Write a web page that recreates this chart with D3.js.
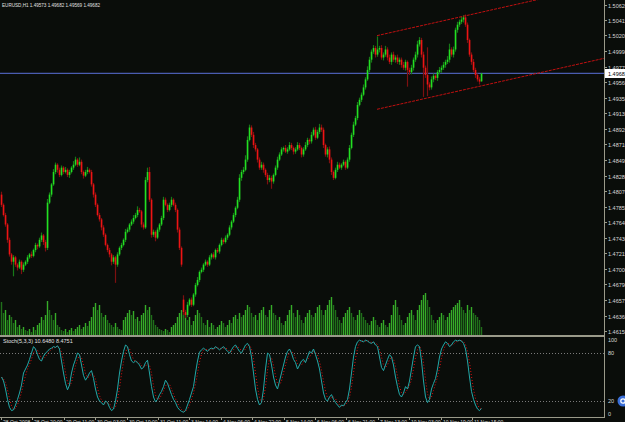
<!DOCTYPE html>
<html lang="en">
<head>
<meta charset="UTF-8">
<title>EURUSD H1</title>
<style>
  html, body { margin: 0; padding: 0; background: #0a0d0a; }
  svg { display: block; }
  text { font-family: "Liberation Sans", Arial, sans-serif; }
</style>
<script src="https://d3js.org/d3.v7.min.js"></script>
</head>
<body>
<script>
// ---- data ----
let closes = [
  1.4788, 1.4774, 1.4761, 1.4740, 1.4720, 1.4710, 1.4716, 1.4706, 1.4702, 1.4710,
  1.4699, 1.4706, 1.4710, 1.4716, 1.4720, 1.4718, 1.4726, 1.4733, 1.4731, 1.4740,
  1.4746, 1.4737, 1.4729, 1.4791, 1.4802, 1.4816, 1.4833, 1.4843, 1.4836, 1.4829,
  1.4839, 1.4833, 1.4836, 1.4829, 1.4833, 1.4839, 1.4843, 1.4850, 1.4843, 1.4847,
  1.4833, 1.4828, 1.4833, 1.4836, 1.4833, 1.4816, 1.4802, 1.4788, 1.4774, 1.4768,
  1.4757, 1.4747, 1.4733, 1.4726, 1.4720, 1.4710, 1.4716, 1.4706, 1.4720, 1.4729,
  1.4733, 1.4740, 1.4751, 1.4754, 1.4761, 1.4765, 1.4770, 1.4774, 1.4781, 1.4779,
  1.4761, 1.4757, 1.4822, 1.4833, 1.4795, 1.4747, 1.4751, 1.4743, 1.4754, 1.4761,
  1.4770, 1.4795, 1.4788, 1.4781, 1.4788, 1.4795, 1.4788, 1.4781, 1.4754, 1.4729,
  1.4706, 1.4641, 1.4637, 1.4651, 1.4658, 1.4651, 1.4665, 1.4678, 1.4685, 1.4696,
  1.4699, 1.4706, 1.4710, 1.4706, 1.4716, 1.4720, 1.4716, 1.4726, 1.4724, 1.4733,
  1.4740, 1.4737, 1.4743, 1.4747, 1.4757, 1.4765, 1.4774, 1.4784, 1.4795, 1.4825,
  1.4833, 1.4836, 1.4850, 1.4877, 1.4894, 1.4884, 1.4870, 1.4864, 1.4850, 1.4839,
  1.4843, 1.4836, 1.4829, 1.4822, 1.4825, 1.4820, 1.4829, 1.4839, 1.4850, 1.4857,
  1.4864, 1.4866, 1.4861, 1.4864, 1.4870, 1.4866, 1.4861, 1.4864, 1.4870, 1.4866,
  1.4857, 1.4864, 1.4870, 1.4877, 1.4875, 1.4884, 1.4891, 1.4880, 1.4888, 1.4894,
  1.4891, 1.4870, 1.4857, 1.4864, 1.4850, 1.4833, 1.4825, 1.4836, 1.4843, 1.4839,
  1.4843, 1.4847, 1.4839, 1.4850, 1.4866, 1.4884, 1.4898, 1.4907, 1.4925, 1.4932,
  1.4939, 1.4949, 1.4960, 1.4973, 1.4987, 1.4998, 1.5003, 1.4994, 1.5001, 1.5003,
  1.4990, 1.4994, 1.5001, 1.4990, 1.4984, 1.4994, 1.4987, 1.4990, 1.4984, 1.4987,
  1.4980, 1.4976, 1.4984, 1.4973, 1.4970, 1.4976, 1.4987, 1.4994, 1.5008, 1.5014,
  1.4994, 1.4976, 1.4966, 1.4953, 1.4949, 1.4960, 1.4965, 1.4962, 1.4970, 1.4973,
  1.4976, 1.4980, 1.4984, 1.4987, 1.5001, 1.4994, 1.5001, 1.5028, 1.5035, 1.5039,
  1.5042, 1.5045, 1.5035, 1.5014, 1.4994, 1.4984, 1.4973, 1.4966, 1.4960, 1.4957,
  1.49682
];
// opens follow the previous close except where the market gapped
let sessionOpens = { 0: 1.4802, 91: 1.4658, 240: 1.49573 };

// wick lengths beyond the body, in pips
let upperWicks = [
  4,2,3,2,3,2,3,2,2,3, 2,3,2,3,2,4,2,3,2,3, 4,2,3,5,3,2,4,3,2,3, 3,2,4,2,3,2,5,4,2,6,
  3,2,3,4,2,3,2,3,2,3, 2,3,2,2,3,2,3,2,3,2, 3,2,4,3,2,3,4,3,5,3, 2,3,4,6,7,2,3,2,3,2,
  3,4,3,2,3,4,2,3,2,3, 2,6,3,4,2,3,2,3,4,2, 3,2,3,2,3,2,3,2,3,2, 3,2,3,2,3,2,3,2,4,5,
  3,4,6,5,4,3,4,3,2,3, 4,3,2,3,4,3,2,3,4,3, 3,2,4,3,4,3,2,3,4,3, 2,3,4,3,2,4,3,4,3,5,
  4,3,2,3,4,3,2,3,4,3, 2,3,2,3,4,3,4,3,4,3, 3,4,3,5,4,3,4,3,18,3, 4,3,5,3,4,3,4,3,4,3,
  3,4,3,2,3,4,3,4,5,4, 3,4,3,38,3,4,3,2,3,4, 3,4,3,5,8,3,4,3,4,3, 4,3,4,3,2,3,4,3,2,3,
  0
];
let lowerWicks = [
  3,2,3,4,3,4,20,3,4,2, 6,3,2,3,2,3,2,3,4,2, 3,4,5,3,2,3,2,3,4,3, 2,3,2,3,4,2,3,2,3,2,
  3,4,2,3,2,3,4,3,2,3, 4,3,2,3,4,5,3,25,3,2, 3,2,3,2,3,2,3,2,3,2, 4,3,2,3,3,4,3,5,2,3,
  2,3,2,3,2,3,2,3,4,3, 3,4,4,3,2,3,2,3,2,3, 2,3,2,3,2,3,2,3,2,3, 2,3,2,3,2,3,2,3,2,3,
  4,3,2,3,2,3,4,3,4,3, 3,4,3,6,3,10,3,2,3,2, 2,3,2,3,2,3,4,3,2,3, 4,3,2,3,4,3,2,3,2,3,
  3,4,3,4,5,4,3,2,3,2, 3,2,3,2,3,2,3,2,3,2, 3,2,3,2,3,4,3,4,3,4, 3,4,3,4,3,4,3,4,3,4,
  4,3,4,23,4,3,4,3,4,3, 4,40,4,16,4,3,4,3,4,3, 4,3,4,3,4,3,4,3,4,3, 3,4,3,4,3,4,3,4,3,4,
  0.4
];

// tick volume
let volumes = [
  1320,880,1000,600,800,720,480,600,320,400, 240,320,200,160,240,120,320,200,400,480,
  720,600,800,1360,1000,800,600,880,400,320, 200,160,240,120,200,280,160,240,320,400,
  240,320,480,360,560,720,1120,1280,1000,1200, 880,720,800,600,480,400,320,480,320,240,
  200,600,720,880,1000,800,960,640,720,560, 800,880,1200,1000,1120,800,600,400,320,240,
  200,160,240,200,120,320,400,480,720,880, 1000,800,880,600,720,400,560,800,1000,880,
  720,480,400,600,320,480,400,240,320,400, 560,480,320,400,600,480,720,800,640,880,
  720,800,1000,1200,1120,880,720,800,600,880, 1000,1120,800,720,1000,1200,880,800,600,720,
  480,400,560,800,1000,1200,880,720,1000,800, 600,480,720,880,1000,800,720,880,1120,1200,
  1000,800,1000,1200,1400,1520,1200,1000,720,600, 480,720,880,1000,1120,880,720,600,800,1000,
  880,720,600,480,400,560,720,600,400,320, 480,600,400,320,480,800,1200,1400,1120,800,
  600,400,480,720,880,1000,800,600,1000,1200, 1400,1600,1680,1400,1120,800,600,480,600,720,
  880,800,600,720,880,1000,1120,1200,1280,1400, 1120,1000,880,1200,1000,1120,880,800,720,600,
  320
];

// Stochastic(5,3,3) main line
let stochMain = [
  50,45,35,22,12,8,9,15,22,30, 40,55,60,65,72,80,88,85,78,72, 70,76,80,82,85,86,88,87,89,85,
  70,55,42,34,40,55,65,72,80,78, 65,52,46,50,55,58,48,35,25,20, 18,15,20,18,12,8,10,20,35,55,
  70,82,90,88,78,70,68,70,68,65, 60,62,68,71,55,38,25,19,22,28, 32,38,46,42,35,28,22,18,12,9,
  7,6,8,15,22,30,38,55,70,81, 84,86,84,82,85,86,85,88,86,84, 86,88,85,82,80,84,88,90,86,82,
  80,85,90,92,88,75,55,35,22,15, 18,35,60,80,78,65,50,40,35,45, 55,65,75,82,85,80,72,68,60,65,
  70,72,68,75,82,80,85,78,70,60, 45,30,22,20,25,28,22,18,15,12, 15,14,18,22,35,55,75,88,94,96,
  95,94,96,95,93,92,94,90,88,75, 62,58,65,72,78,75,65,50,38,28, 25,30,38,35,45,60,75,88,90,88,
  70,45,25,18,22,35,42,48,60,75, 85,90,94,92,88,90,94,96,95,96, 95,92,85,70,50,32,22,15,10,8,
  10.648
];

let priceTicks = [1.50620, 1.50415, 1.50205, 1.49990, 1.49775, 1.49560, 1.49350, 1.49135,
  1.48920, 1.48710, 1.48495, 1.48280, 1.48070, 1.47855, 1.47640, 1.47430, 1.47215, 1.47000,
  1.46790, 1.46575, 1.46360, 1.46150];
let stochLevels = [100, 80, 20, 0];
let timeLabels = ["28 Oct 2008", "28 Oct 20:00", "29 Oct 11:00", "30 Oct 03:00", "30 Oct 19:00",
  "31 Oct 11:00", "3 Nov 14:00", "4 Nov 06:00", "4 Nov 22:00", "5 Nov 14:00", "6 Nov 06:00",
  "6 Nov 21:00", "7 Nov 13:00", "10 Nov 03:00", "10 Nov 19:00", "11 Nov 15:00"];

// regression channel anchors [bar, price]
let channelUpper = [[188, 1.5020], [240, 1.5052]];
let channelLower = [[188, 1.4919], [240, 1.4951]];

let bidPrice = 1.49682;
let headerText = "EURUSD,H1  1.49573 1.49682 1.49569 1.49682";
let stochText = "Stoch(5,3,3) 10.6480 8.4751";

// ---- layout ----
let width = 625, height = 422;
let plotRight = 604;
let mainBottom = 335, stochTop = 337, stochBottom = 417;
let fontSize = 5.5;

let bars = closes.map(function (c, i) {
    let o = (i in sessionOpens) ? sessionOpens[i] : closes[i - 1];
    return {
        i: i, o: o, c: c,
        h: Math.max(o, c) + upperWicks[i] / 10000,
        l: Math.min(o, c) - lowerWicks[i] / 10000,
        v: volumes[i]
    };
});

let svg = d3.select("body").append("svg")
    .attr("width", width).attr("height", height);

svg.append("rect").attr("width", width).attr("height", height).attr("fill", "#0a0d0a");

let x = d3.scaleLinear().domain([0, 300]).range([1, 601]);
let y = d3.scaleLinear().domain([1.4615, 1.5062]).range([331, 5]);
let yVol = d3.scaleLinear().domain([0, 1800]).range([mainBottom, mainBottom - 45]);
let yStoch = d3.scaleLinear().domain([0, 100]).range([stochBottom, stochTop]);

let defs = svg.append("defs");
defs.append("clipPath").attr("id", "clipMain")
    .append("rect").attr("x", 0).attr("y", 0).attr("width", plotRight).attr("height", mainBottom);
defs.append("clipPath").attr("id", "clipStoch")
    .append("rect").attr("x", 0).attr("y", stochTop).attr("width", plotRight).attr("height", stochBottom - stochTop);

let main = svg.append("g").attr("clip-path", "url(#clipMain)");

// volumes
main.append("g").selectAll("rect")
    .data(bars).enter().append("rect")
    .attr("x", d => x(d.i) - 0.2)
    .attr("width", 1.4)
    .attr("y", d => yVol(d.v))
    .attr("height", d => mainBottom - yVol(d.v))
    .attr("fill", d => (d.i > 0 && d.v >= bars[d.i - 1].v) ? "#36ac28" : "#20701a");

// bid line
main.append("line")
    .attr("x1", 0).attr("x2", plotRight)
    .attr("y1", y(bidPrice)).attr("y2", y(bidPrice))
    .attr("stroke", "#4a5cb0").attr("stroke-width", 1.2);

// candles
let candle = main.append("g").selectAll("g")
    .data(bars).enter().append("g");

candle.append("line")
    .attr("x1", d => x(d.i) + 0.5).attr("x2", d => x(d.i) + 0.5)
    .attr("y1", d => y(d.h)).attr("y2", d => y(d.l))
    .attr("stroke", d => d.c >= d.o ? "#177a17" : "#7d1010")
    .attr("stroke-width", 1.2);

candle.append("rect")
    .attr("x", d => x(d.i) - 0.25)
    .attr("width", 1.6)
    .attr("y", d => y(Math.max(d.o, d.c)))
    .attr("height", d => Math.max(1, Math.abs(y(d.o) - y(d.c))))
    .attr("fill", d => d.c >= d.o ? "#22e022" : "#ee1414");

// regression channel rays
function ray(pts) {
    let slope = (pts[1][1] - pts[0][1]) / (pts[1][0] - pts[0][0]);
    return [pts[0], [302, pts[0][1] + slope * (302 - pts[0][0])]];
}
[channelUpper, channelLower].forEach(function (pts) {
    main.append("path")
        .attr("d", d3.line().x(p => x(p[0])).y(p => y(p[1]))(ray(pts)))
        .attr("fill", "none")
        .attr("stroke", "#c01010")
        .attr("stroke-width", 1)
        .attr("stroke-dasharray", "3,1");
});

// header
svg.append("text").attr("x", 2).attr("y", 7)
    .attr("font-size", fontSize).attr("fill", "#e0e0e0")
    .attr("textLength", 98).attr("lengthAdjust", "spacingAndGlyphs")
    .text(headerText);

// frame lines
let frame = "#9a9a8a";
svg.append("line").attr("x1", plotRight + 0.5).attr("x2", plotRight + 0.5)
    .attr("y1", 0).attr("y2", stochBottom + 0.5).attr("stroke", frame);
svg.append("rect").attr("x", 0).attr("y", mainBottom).attr("width", plotRight + 1).attr("height", 2)
    .attr("fill", frame);
svg.append("line").attr("x1", 0).attr("x2", plotRight + 1)
    .attr("y1", stochBottom + 0.5).attr("y2", stochBottom + 0.5).attr("stroke", frame);

// price axis
let pAxis = svg.append("g");
priceTicks.forEach(function (p) {
    let yy = Math.round(y(p)) + 0.5;
    pAxis.append("line").attr("x1", plotRight).attr("x2", plotRight + 3)
        .attr("y1", yy).attr("y2", yy).attr("stroke", frame);
    pAxis.append("text").attr("x", plotRight + 4).attr("y", yy + 2)
        .attr("font-size", fontSize).attr("fill", "#d8d8d8").text(d3.format(".5f")(p));
});
// bid price box
let by = Math.round(y(bidPrice));
svg.append("rect").attr("x", plotRight + 1).attr("y", by - 4).attr("width", width - plotRight).attr("height", 9)
    .attr("fill", "#ffffff");
svg.append("text").attr("x", plotRight + 4).attr("y", by + 2.5)
    .attr("font-size", fontSize).attr("fill", "#000").text(d3.format(".5f")(bidPrice));

// stochastic window
let stoch = svg.append("g").attr("clip-path", "url(#clipStoch)");
[80, 20].forEach(function (lv) {
    stoch.append("line").attr("x1", 0).attr("x2", plotRight)
        .attr("y1", Math.round(yStoch(lv)) + 0.5).attr("y2", Math.round(yStoch(lv)) + 0.5)
        .attr("stroke", "#7a7a7a").attr("stroke-dasharray", "1,2");
});

let stochSignal = stochMain.map(function (v, i) {
    let win = stochMain.slice(Math.max(0, i - 2), i + 1);
    return d3.mean(win);
});

stoch.append("path")
    .attr("d", d3.line().x((d, i) => x(i) + 0.5).y(d => yStoch(d))(stochSignal))
    .attr("fill", "none").attr("stroke", "#e01010").attr("stroke-width", 1)
    .attr("stroke-dasharray", "1,2");
stoch.append("path")
    .attr("d", d3.line().x((d, i) => x(i) + 0.5).y(d => yStoch(d))(stochMain))
    .attr("fill", "none").attr("stroke", "#22a8a8").attr("stroke-width", 1);

svg.append("text").attr("x", 3).attr("y", 343)
    .attr("font-size", fontSize).attr("fill", "#e0e0e0").text(stochText);

stochLevels.forEach(function (lv) {
    let yy = yStoch(lv);
    if (lv === 100) yy += 3;
    if (lv === 0) yy -= 3;
    svg.append("text").attr("x", plotRight + 4).attr("y", yy + 2)
        .attr("font-size", fontSize).attr("fill", "#d8d8d8").text(lv);
});

// blue marker on the right edge
svg.append("circle").attr("cx", 623).attr("cy", 401).attr("r", 5.5).attr("fill", "#3a6fd8");
svg.append("circle").attr("cx", 623).attr("cy", 401).attr("r", 2.2).attr("fill", "none")
    .attr("stroke", "#ffffff").attr("stroke-width", 1.2);

// time axis
let step = 15.7;
timeLabels.forEach(function (t, k) {
    let xx = Math.round(x(k * step)) + 0.5;
    svg.append("line").attr("x1", xx).attr("x2", xx)
        .attr("y1", stochBottom).attr("y2", stochBottom + 3).attr("stroke", frame);
    svg.append("text").attr("x", xx + 1.5).attr("y", 423.5)
        .attr("font-size", 5).attr("fill", "#d8d8d8").text(t);
});
</script>
</body>
</html>
